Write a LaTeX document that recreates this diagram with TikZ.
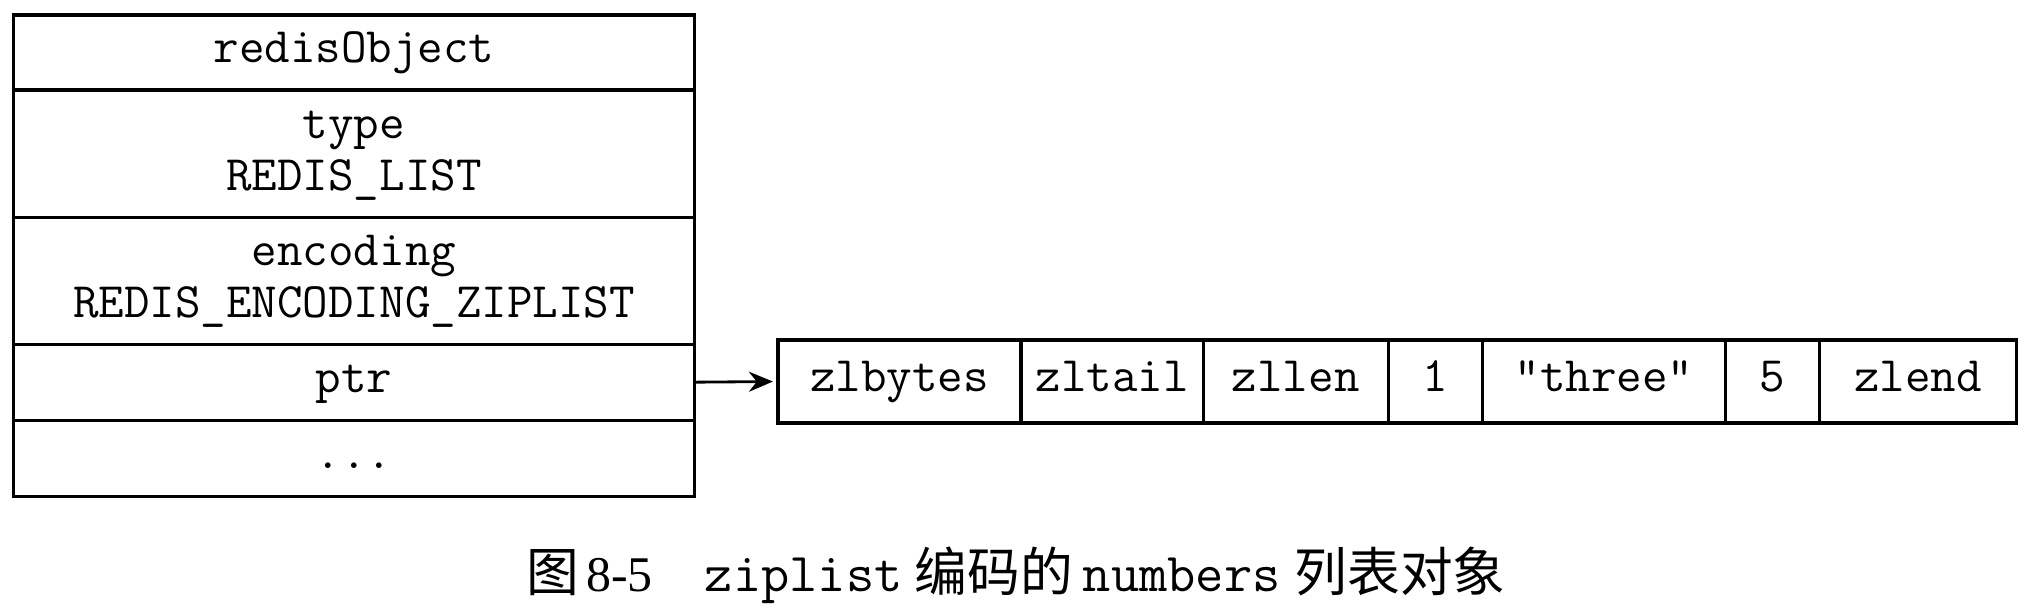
\documentclass[tikz,border=0pt]{standalone}
\usepackage{fontspec}
\setmainfont{Liberation Serif}
\newfontfamily\cjk{Noto Sans CJK SC}
\usetikzlibrary{positioning,arrows.meta}
\tikzstyle{field}=[draw, line width=0.9pt, minimum width=6.8cm, inner sep=0, outer sep=0,
  align=center, text height=0.31cm, text depth=0.1cm, font=\fontsize{14.1}{14.8}\selectfont\ttfamily]
\tikzstyle{cell}=[draw, line width=0.9pt, minimum height=0.83cm, inner sep=0, outer sep=0,
  text height=0.31cm, text depth=0.1cm, font=\fontsize{14.1}{14.8}\selectfont\ttfamily]
\tikzset{>={Stealth[length=2.4mm,width=2mm]}}
\newcommand{\drawfield}{\node[field]}
\newcommand{\drawcell}{\node[cell]}
\newcommand{\captt}[1]{{\fontsize{15.6}{16}\selectfont\ttfamily #1}}
\newcommand{\capcjk}[1]{{\fontsize{15}{16}\selectfont\cjk #1}}

\begin{document}
\begin{tikzpicture}[x=0.01cm,y=-0.01cm]
	\useasboundingbox (0,0) rectangle (2044,610);
	
	% redisObject
	\drawfield[minimum height=0.75cm] (obj) at (354,52.5) {redisObject};
	\drawfield[minimum height=1.27cm, text height=0.83cm, below=0pt of obj] (type) {type\\REDIS\_LIST};
	\drawfield[minimum height=1.27cm, text height=0.83cm, below=0pt of type] (enc) {encoding\\REDIS\_ENCODING\_ZIPLIST};
	\drawfield[minimum height=0.76cm, below=0pt of enc] (ptr) {ptr};
	\drawfield[minimum height=0.76cm, below=0pt of ptr] (more) {...};
	
	% ziplist
	\drawcell[minimum width=2.43cm] (zlbytes) at (899.5,381.5) {zlbytes};
	\drawcell[minimum width=1.82cm, right=0pt of zlbytes] (zltail) {zltail};
	\drawcell[minimum width=1.85cm, right=0pt of zltail] (zllen) {zllen};
	\drawcell[minimum width=0.94cm, right=0pt of zllen] (e1) {1};
	\drawcell[minimum width=2.43cm, right=0pt of e1] (e2) {"three"};
	\drawcell[minimum width=0.94cm, right=0pt of e2] (e3) {5};
	\drawcell[minimum width=1.97cm, right=0pt of e3] (zlend) {zlend};
	
	\draw[->, line width=0.8pt, shorten >=0.05cm] (ptr.east) -- (zlbytes.west);
	
	\node[anchor=base, inner sep=0] (caption) at (1016,592) {\capcjk{图}\hspace{0.07cm}{\fontsize{14.2}{16}\selectfont 8-5}\hspace{0.52cm}\captt{ziplist}\hspace{0.12cm}\capcjk{编码的}\hspace{0.1cm}\captt{numbers}\hspace{0.14cm}\capcjk{列表对象}};
	
\end{tikzpicture}
\end{document}
